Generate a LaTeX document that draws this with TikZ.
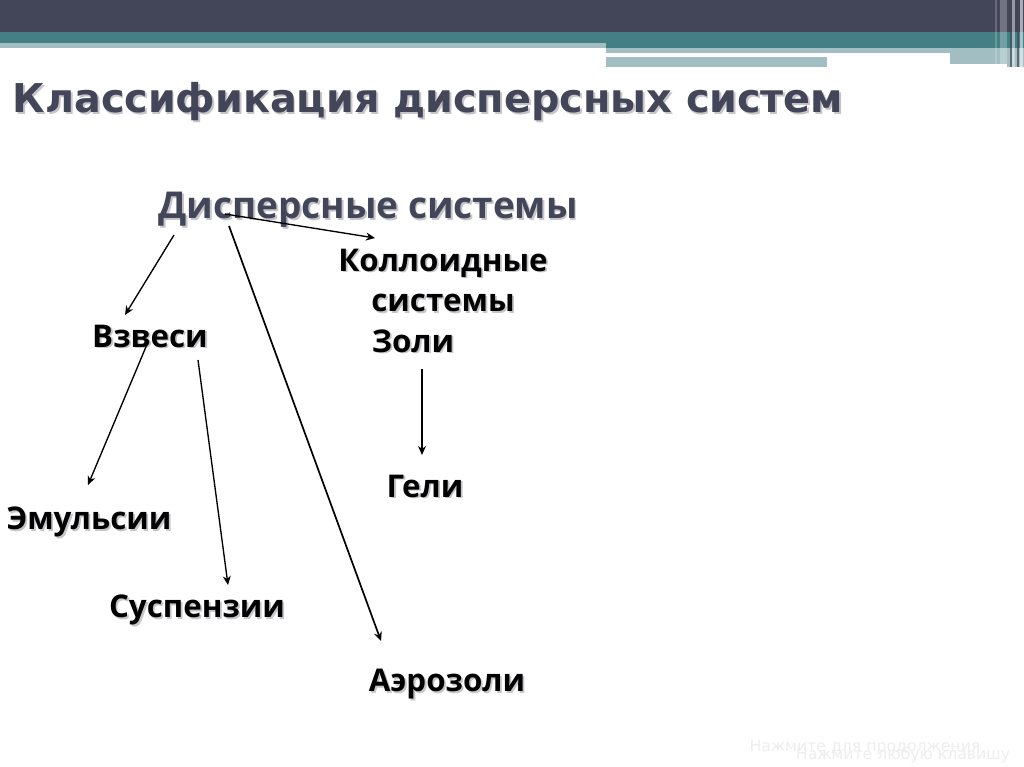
\documentclass[tikz,border=0pt]{standalone}
\usepackage{fontspec}
\setmainfont{DejaVu Sans}
\newfontfamily\bodyfont{Open Sans}
\usetikzlibrary{arrows.meta}
\definecolor{navy}{HTML}{434559}
\definecolor{teal1}{HTML}{447F85}
\definecolor{pale}{HTML}{A2BEC2}
\definecolor{shade}{HTML}{C6C6CA}
\definecolor{faint}{HTML}{EEEEEE}
\newcommand{\shtext}[5]{% name, x, y, style, text
  \node[#4,text=shade] at (#2+1.8,#3+1.8) {#5};
  \node[#4] (#1) at (#2,#3) {#5};}
\tikzset{
  titletext/.style={inner sep=0pt,font=\fontsize{39.7}{39.7}\selectfont\bfseries,text=navy},
  subtext/.style={inner sep=0pt,font=\fontsize{37}{37}\selectfont\bodyfont\bfseries,text=navy},
  label/.style={inner sep=0pt,font=\fontsize{31.3}{31.3}\selectfont\bodyfont\bfseries,text=black},
  link/.style={draw=black,line width=1.7pt,-{Stealth[length=9pt,width=8pt]}},
  linkthin/.style={draw=black,line width=1.35pt,-{Stealth[length=9pt,width=8pt]}},
  hint/.style={inner sep=0pt,font=\fontsize{15.7}{15.7}\selectfont,text=faint}
}
\begin{document}
\begin{tikzpicture}[x=1pt,y=-1pt]
\useasboundingbox (0,0) rectangle (1024,767);
\fill[white] (0,0) rectangle (1024,767);
% header bands
\fill[navy] (0,0) rectangle (1024,32);
\fill[teal1] (0,32) rectangle (1024,43);
\fill[teal1] (606,43) rectangle (1024,48);
\fill[pale] (0,43) rectangle (606,48);
\fill[pale] (606,48) rectangle (1024,53);
\fill[pale] (606,57) rectangle (827,67);
\fill[pale] (950,53) rectangle (1024,64);
\fill[pale] (1007,64) rectangle (1024,67);
% right stripes
\fill[white,opacity=.2] (995,0) rectangle (997,67);
\fill[white,opacity=.25] (1000,0) rectangle (1007,67);
\fill[navy,opacity=.7] (1010,0) rectangle (1011.5,67);
\fill[white,opacity=.45] (1012,0) rectangle (1015,67);
\fill[navy,opacity=.7] (1017,0) rectangle (1019,67);
\fill[white,opacity=.55] (1020,0) rectangle (1023,67);
% texts
\shtext{title}{428}{101.5}{titletext}{Классификация дисперсных систем}
\shtext{dis}{368}{210}{subtext}{Дисперсные системы}
\shtext{vzv}{150}{336}{label}{Взвеси}
\shtext{kol}{443}{263}{label}{Коллоидные}
\shtext{sis}{443}{303}{label}{системы}
\shtext{zol}{413}{341}{label}{Золи}
\shtext{gel}{425}{486}{label}{Гели}
\shtext{emu}{89}{522}{label}{Эмульсии}
\shtext{sus}{197}{610}{label}{Суспензии}
\shtext{aer}{447}{684}{label}{Аэрозоли}
% connectors
\draw[linkthin] ([shift={(-194,25)}]dis.center) -- ([shift={(-25,-21)}]vzv.center);
\draw[linkthin] ([shift={(-143,4)}]dis.center) -- ([shift={(-68,-25)}]kol.center);
\draw[link] ([shift={(-139,16)}]dis.center) -- ([shift={(-66,-43)}]aer.center);
\draw[linkthin] ([shift={(-2,6)}]vzv.center) -- ([shift={(-1,-37)}]emu.center);
\draw[linkthin] ([shift={(48,24)}]vzv.center) -- ([shift={(31,-25)}]sus.center);
\draw[linkthin] ([shift={(9,28)}]zol.center) -- ([shift={(-3,-31)}]gel.center);
% footer hints
\node[hint] (hintA) at (865,747) {Нажмите для продолжения};
\node[hint] (hintB) at (903,755) {Нажмите любую клавишу};
\end{tikzpicture}
\end{document}
